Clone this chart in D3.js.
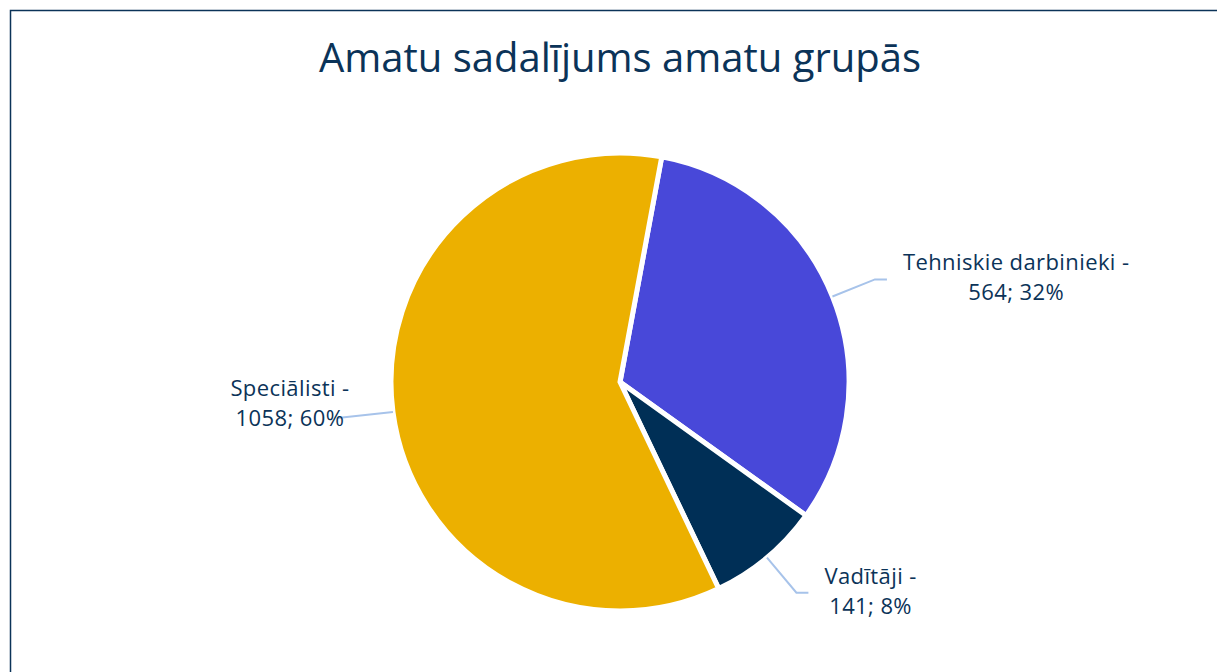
<!DOCTYPE html>
<meta charset="utf-8">
<script src="https://d3js.org/d3.v7.min.js"></script>
<style>
  body { margin: 0; background: #fff; }
  text { font-family: "Open Sans", sans-serif; fill: #0b3358; }
</style>
<div id="chart"></div>
<script>
// data
var categories = ["Tehniskie darbinieki", "Vadītāji", "Speciālisti"];
var values = [564, 141, 1058];
var percents = ["32%", "8%", "60%"];
var colors = ["#4848d9", "#002f56", "#ecb000"];

var width = 1217, height = 672;
var cx = 620, cy = 382, r = 229;

var svg = d3.select("#chart").append("svg").attr("width", width).attr("height", height);

// frame (cut off on right and bottom like the screenshot)
svg.append("rect").attr("x", 10.5).attr("y", 10.5).attr("width", 1400).attr("height", 900)
  .attr("fill", "none").attr("stroke", "#0b3358").attr("stroke-width", 1.5);

svg.append("text").attr("x", 620).attr("y", 72).attr("text-anchor", "middle")
  .style("font-size", "40px").text("Amatu sadalījums amatu grupās");

var data = categories.map(function(c, i) { return { name: c, value: values[i], pct: percents[i], color: colors[i] }; });

var a0 = 10.5 * Math.PI / 180;
var pie = d3.pie().sort(null).value(function(d) { return d.value; }).startAngle(a0).endAngle(a0 + 2 * Math.PI);
var arcs = pie(data);
var arc = d3.arc().innerRadius(0).outerRadius(r);

var g = svg.append("g").attr("transform", "translate(" + cx + "," + cy + ")");

g.selectAll("path").data(arcs).enter().append("path")
  .attr("d", arc)
  .attr("fill", function(d) { return d.data.color; })
  .attr("stroke", "#fff").attr("stroke-width", 5).attr("stroke-linejoin", "miter");

// leader lines + labels
arcs.forEach(function(d) {
  var mid = (d.startAngle + d.endAngle) / 2;
  var sx = Math.sin(mid), sy = -Math.cos(mid);
  var p0 = [sx * r, sy * r];
  var p1 = [sx * r * 1.2, sy * r * 1.2];
  var right = sx > 0;
  var pts = right ? [p0, p1, [p1[0] + 12, p1[1]]] : [p0, [p1[0] - 10, p1[1]]];
  g.append("path").attr("d", d3.line()(pts))
    .attr("fill", "none").attr("stroke", "#a7c3ea").attr("stroke-width", 2);

  var lab = g.append("text").attr("text-anchor", "middle")
    .style("font-size", "22px").style("letter-spacing", "0.4px");
  var l1 = lab.append("tspan").text(d.data.name + " -");
  var l2 = lab.append("tspan").text(d.data.value + "; " + d.data.pct);
  var w = Math.max(l1.node().getComputedTextLength(), l2.node().getComputedTextLength());
  var end = pts[pts.length - 1];
  var x = right ? end[0] + 16 + w / 2 : end[0] + 12 - w / 2;
  var y = right ? end[1] - 9 : end[1] - 22;
  l1.attr("x", x).attr("y", y);
  l2.attr("x", x).attr("y", y + 30);
});
</script>
